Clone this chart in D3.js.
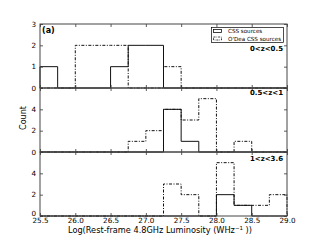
<!DOCTYPE html>
<html>
<head>
<meta charset="utf-8">
<script src="https://cdn.jsdelivr.net/npm/d3@7"></script>
<style>
  html, body { margin: 0; padding: 0; background: #fff; }
  svg { display: block; font-family: "DejaVu Sans", sans-serif; }
</style>
</head>
<body>
<div id="chart"></div>
<script>
// luminosity bins (left edges, width 0.25)
const binStarts = [25.5, 25.75, 26.0, 26.25, 26.5, 26.75, 27.0, 27.25, 27.5, 27.75, 28.0, 28.25, 28.5, 28.75];
const binWidth = 0.25;

// counts per redshift slice
const cssLow   = [1, 0, 0, 0, 1, 2, 2, 0, 0, 0, 0, 0, 0, 0];
const odeaLow  = [0, 0, 2, 2, 2, 0, 0, 1, 0, 0, 0, 0, 0, 0];
const cssMid   = [0, 0, 0, 0, 0, 0, 0, 4, 1, 0, 0, 0, 0, 0];
const odeaMid  = [0, 0, 0, 0, 0, 1, 2, 4, 3, 5, 0, 1, 0, 0];
const cssHigh  = [0, 0, 0, 0, 0, 0, 0, 0, 0, 0, 2, 1, 0, 0];
const odeaHigh = [0, 0, 0, 0, 0, 0, 0, 3, 2, 0, 5, 1, 1, 2];

const panelLabels = ['0<z<0.5', '0.5<z<1', '1<z<3.6'];
const yMax = [3, 6, 6];
const yTickLabels = [[0, 1, 2, 3], [0, 2, 4], [0, 2, 4]];
const yTickMarks = [[0, 1, 2, 3], [0, 2, 4, 6], [0, 2, 4, 6]];
const xTicks = [25.5, 26.0, 26.5, 27.0, 27.5, 28.0, 28.5, 29.0];
const legendLabels = ['CSS sources', "O'Dea CSS sources"];

const panels = [
  { css: cssLow, odea: odeaLow },
  { css: cssMid, odea: odeaMid },
  { css: cssHigh, odea: odeaHigh },
];

const W = 320, H = 240;
const plotL = 40, plotR = 287, plotT = 24, panelH = 64;
const labelDy = [27, 6.5, 9];
const dashDot = '3,1.5,1,1.5';

const svg = d3.select('#chart').append('svg')
  .attr('width', W).attr('height', H);

const x = d3.scaleLinear().domain([25.5, 29.0]).range([plotL, plotR]);

// step outline like a matplotlib 'step' histogram
function stepPoints(counts) {
  const pts = [[binStarts[0], 0]];
  counts.forEach((c, i) => {
    pts.push([binStarts[i], c]);
    pts.push([binStarts[i] + binWidth, c]);
  });
  pts.push([binStarts[binStarts.length - 1] + binWidth, 0]);
  return pts;
}

panels.forEach((p, i) => {
  const y0 = plotT + i * panelH;
  const y = d3.scaleLinear().domain([0, yMax[i]]).range([y0 + panelH, y0]);
  const g = svg.append('g');

  const line = d3.line().x(d => x(d[0])).y(d => y(d[1]));

  g.append('path')
    .attr('d', line(stepPoints(p.odea)))
    .attr('fill', 'none')
    .attr('stroke', '#111')
    .attr('stroke-width', 1)
    .attr('stroke-dasharray', dashDot);

  g.append('path')
    .attr('d', line(stepPoints(p.css)))
    .attr('fill', 'none')
    .attr('stroke', '#111')
    .attr('stroke-width', 1);

  // ticks pointing inwards on all four sides
  const bottomAx = d3.axisBottom(x).tickValues(xTicks).tickSize(-3).tickPadding(1.5)
    .tickFormat(i === 2 ? d3.format('.1f') : () => '');
  const topAx = d3.axisTop(x).tickValues(xTicks).tickSize(-3).tickFormat(() => '');
  const leftAx = d3.axisLeft(y).tickValues(yTickMarks[i]).tickSize(-3).tickPadding(4)
    .tickFormat(d => yTickLabels[i].includes(d) ? d : '');
  const rightAx = d3.axisRight(y).tickValues(yTickMarks[i]).tickSize(-3).tickFormat(() => '');

  [[bottomAx, `translate(0,${y0 + panelH})`],
   [topAx, `translate(0,${y0})`],
   [leftAx, `translate(${plotL},0)`],
   [rightAx, `translate(${plotR},0)`]].forEach(([ax, tr]) => {
    const a = g.append('g').attr('transform', tr).call(ax);
    a.select('.domain').remove();
    a.selectAll('line').attr('stroke', '#333').attr('stroke-width', 0.8);
    a.selectAll('text').attr('font-size', 7.2).attr('fill', '#000')
      .attr('font-family', '"DejaVu Sans", sans-serif');
  });

  g.append('rect')
    .attr('x', plotL).attr('y', y0)
    .attr('width', plotR - plotL).attr('height', panelH)
    .attr('fill', 'none').attr('stroke', '#444').attr('stroke-width', 1);

  g.append('text')
    .attr('x', plotR - 4).attr('y', y0 + labelDy[i])
    .attr('text-anchor', 'end')
    .attr('font-size', 7).attr('font-weight', 'bold')
    .text(panelLabels[i]);

  // bottom-most zero sits just above the first x label
  if (i === 2) {
    g.selectAll('.tick text').filter(d => d === 0).attr('dy', '-0.05em');
  }
});

// panel tag
svg.append('text')
  .attr('x', 42).attr('y', 33)
  .attr('font-size', 8).attr('font-weight', 'bold')
  .text('(a)');

// legend
const lg = svg.append('g');
lg.append('rect')
  .attr('x', 211.5).attr('y', 27.5).attr('width', 72).attr('height', 15)
  .attr('fill', '#fff').attr('stroke', '#000').attr('stroke-width', 0.7);
legendLabels.forEach((lab, k) => {
  const ly = 31 + k * 7.5;
  lg.append('rect')
    .attr('x', 213.5).attr('y', ly - 1.5).attr('width', 8).attr('height', 3)
    .attr('fill', 'none').attr('stroke', '#111').attr('stroke-width', 0.8)
    .attr('stroke-dasharray', k === 1 ? '2,1,0.7,1' : null);
  lg.append('text')
    .attr('x', 228).attr('y', ly + 2)
    .attr('font-size', 5.6)
    .text(lab);
});

// axis titles
svg.append('text')
  .attr('transform', 'translate(26,118) rotate(-90)')
  .attr('text-anchor', 'middle')
  .attr('font-size', 8)
  .text('Count');

const xl = svg.append('text')
  .attr('x', 160).attr('y', 233)
  .attr('text-anchor', 'middle')
  .attr('font-size', 8.2);
xl.append('tspan').text('Log(Rest-frame 4.8GHz Luminosity (WHz');
xl.append('tspan').attr('font-size', 5.5).attr('dy', -3).text('\u22121');
xl.append('tspan').attr('dy', 3).text(' ))');
</script>
</body>
</html>
